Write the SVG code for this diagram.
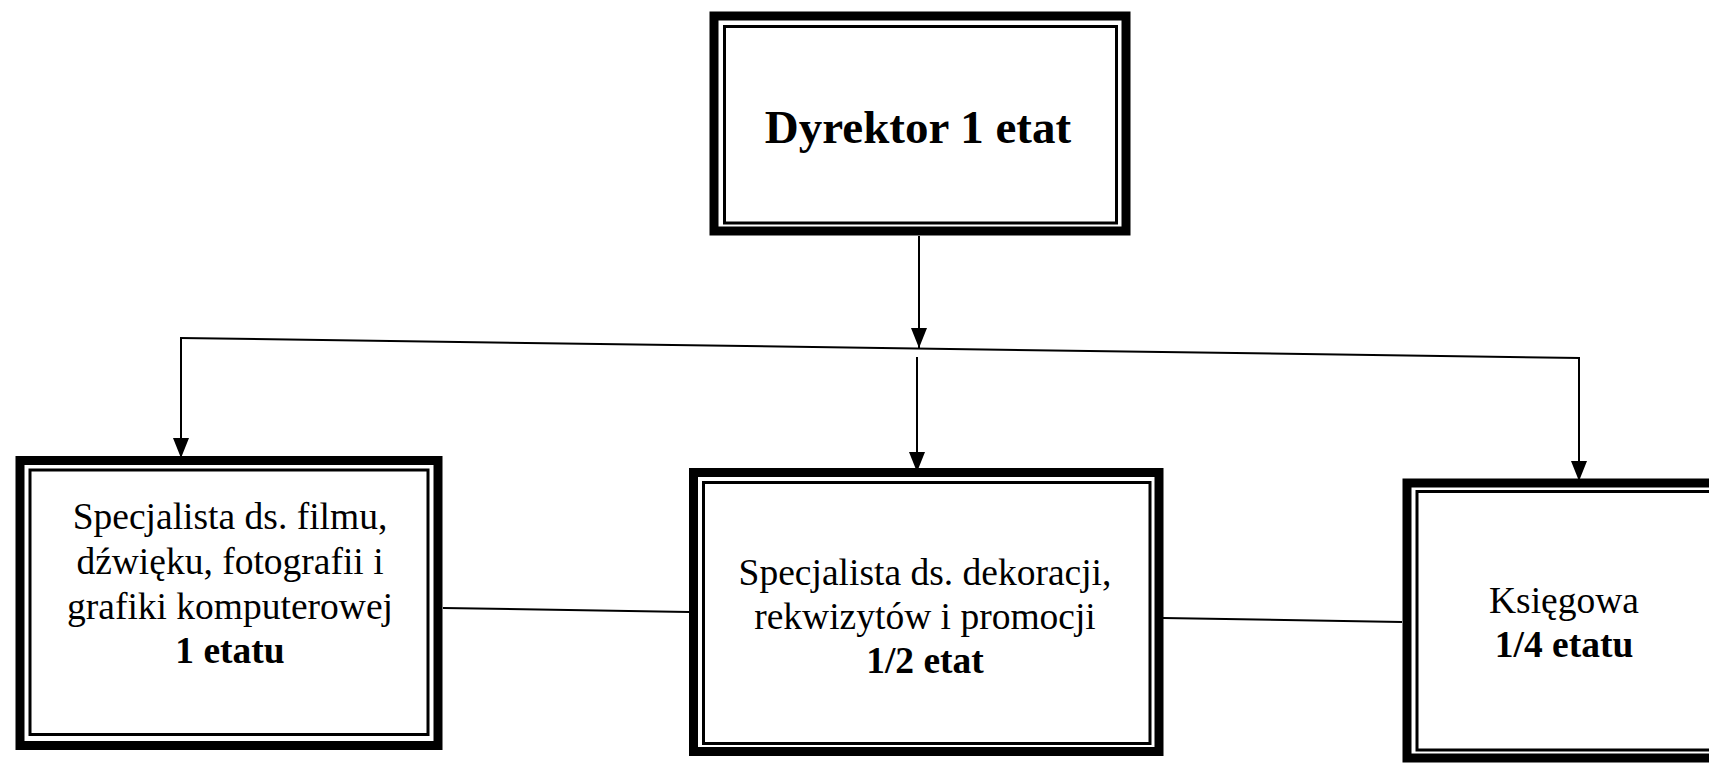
<svg xmlns="http://www.w3.org/2000/svg" width="1709" height="764" viewBox="0 0 1709 764">
<style>
.outer{fill:none;stroke:#000;stroke-width:9}
.inner{fill:none;stroke:#000;stroke-width:3}
.t{font-family:"Liberation Serif","Times New Roman",serif;font-size:37.5px;fill:#000;text-anchor:middle}
.b{font-weight:bold}
.big{font-size:47px}
.c{fill:none;stroke:#000;stroke-width:2}
</style>
<defs>
<marker id="arr" viewBox="0 0 20 16" refX="20" refY="8" markerWidth="20" markerHeight="16" markerUnits="userSpaceOnUse" orient="auto">
<path d="M0,0 L20,8 L0,16 z" fill="#000"/>
</marker>
</defs>
<rect width="1709" height="764" fill="#fff"/>
<g id="connectors">
<line class="c" x1="919" y1="236" x2="919" y2="348" marker-end="url(#arr)"/>
<line class="c" x1="180" y1="338" x2="1580" y2="358"/>
<line class="c" x1="181" y1="339" x2="181" y2="458" marker-end="url(#arr)"/>
<line class="c" x1="917" y1="357" x2="917" y2="472" marker-end="url(#arr)"/>
<line class="c" x1="1579" y1="358" x2="1579" y2="481" marker-end="url(#arr)"/>
<line class="c" x1="443" y1="608" x2="689" y2="612"/>
<line class="c" x1="1163" y1="618" x2="1402" y2="622"/>
</g>
<g id="dyrektor">
<rect class="outer" x="714" y="16" width="412" height="215"/>
<rect class="inner" x="724.5" y="26.5" width="392" height="196.5"/>
<text class="t b big" x="918" y="143">Dyrektor 1 etat</text>
</g>
<g id="specjalista-film">
<rect class="outer" x="20" y="460.5" width="418" height="285"/>
<rect class="inner" x="30" y="470" width="398" height="264.5"/>
<text class="t" x="230" y="529">Specjalista ds. filmu,</text>
<text class="t" x="230" y="574">dźwięku, fotografii i</text>
<text class="t" x="230" y="619">grafiki komputerowej</text>
<text class="t b" x="230" y="663">1 etatu</text>
</g>
<g id="specjalista-dekoracje">
<rect class="outer" x="693.5" y="472.5" width="465.5" height="279"/>
<rect class="inner" x="703.5" y="482.5" width="446.5" height="261"/>
<text class="t" x="925" y="585">Specjalista ds. dekoracji,</text>
<text class="t" x="925" y="629">rekwizytów i promocji</text>
<text class="t b" x="925" y="673">1/2 etat</text>
</g>
<g id="ksiegowa">
<rect class="outer" x="1407" y="483" width="330" height="275"/>
<rect class="inner" x="1417" y="491.5" width="310" height="258.5"/>
<text class="t" x="1564" y="613">Księgowa</text>
<text class="t b" x="1564" y="657">1/4 etatu</text>
</g>
</svg>
